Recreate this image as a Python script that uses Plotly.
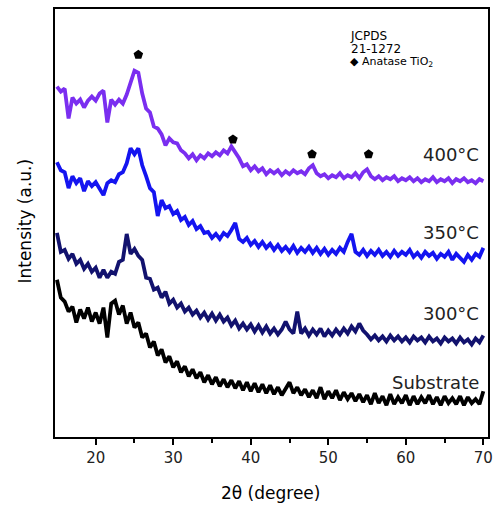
import plotly.graph_objects as go

# 2-theta scan positions (degrees), step 0.5
two_theta = [15 + 0.5 * i for i in range(111)]

# Intensities (a.u.)
i_400 = [352, 347, 350, 320, 341, 335, 339, 331, 338, 342,
         338, 345, 348, 316, 339, 334, 339, 335, 344, 356,
         368, 366, 345, 330, 326, 312, 310, 304, 293, 300,
         296, 295, 288, 285, 280, 284, 278, 283, 280, 285,
         282, 286, 283, 288, 285, 292, 286, 280, 272, 274,
         268, 272, 267, 270, 264, 268, 265, 268, 263, 267,
         264, 268, 265, 267, 264, 270, 273, 265, 262, 264,
         260, 263, 261, 265, 260, 263, 261, 265, 260, 266,
         269, 262, 259, 262, 258, 261, 259, 262, 257, 260,
         258, 261, 257, 260, 256, 259, 257, 261, 256, 259,
         257, 260, 255, 259, 257, 260, 256, 258, 255, 259,
         257]

i_350 = [276, 268, 266, 250, 262, 255, 260, 247, 257, 252,
         256, 250, 243, 255, 258, 256, 264, 266, 275, 290,
         284, 290, 273, 262, 250, 246, 222, 238, 230, 232,
         224, 227, 218, 221, 213, 217, 209, 212, 205, 206,
         200, 204, 199, 205, 202, 208, 215, 199, 196, 200,
         193, 197, 191, 196, 190, 194, 188, 193, 187, 191,
         186, 192, 185, 190, 186, 191, 185, 190, 184, 189,
         183, 188, 184, 190, 186, 196, 204, 186, 183, 188,
         182, 187, 183, 188, 182, 186, 181, 187, 182, 186,
         183, 188, 181, 185, 180, 186, 182, 185, 179, 184,
         181, 186, 178, 184, 180, 176, 183, 178, 184, 181,
         190]

i_300 = [205, 186, 188, 179, 184, 174, 178, 169, 174, 166,
         170, 160, 168, 160, 166, 164, 176, 178, 204, 184,
         189, 182, 178, 160, 159, 148, 150, 140, 146, 134,
         138, 130, 134, 126, 130, 123, 127, 120, 125, 118,
         124, 117, 123, 116, 120, 112, 117, 109, 114, 108,
         113, 106, 112, 105, 111, 104, 109, 103, 108, 116,
         108, 104, 126, 104, 109, 102, 108, 103, 109, 101,
         107, 102, 108, 103, 109, 104, 111, 106, 114, 107,
         103, 98, 102, 97, 101, 96, 102, 97, 101, 96,
         100, 95, 101, 97, 100, 95, 101, 96, 99, 94,
         100, 96, 99, 94, 100, 95, 98, 93, 99, 95,
         102]

i_sub = [158, 140, 136, 126, 131, 115, 128, 119, 130, 116,
         125, 114, 130, 100, 134, 137, 123, 132, 114, 125,
         110, 115, 100, 104, 90, 96, 82, 88, 75, 81,
         70, 76, 65, 71, 61, 68, 59, 65, 55, 62,
         53, 60, 51, 58, 50, 57, 49, 56, 47, 55,
         46, 54, 45, 53, 44, 52, 43, 50, 42, 49,
         55, 44, 50, 42, 48, 40, 47, 39, 50, 38,
         46, 39, 47, 37, 45, 38, 44, 36, 43, 35,
         42, 33, 44, 34, 41, 32, 43, 33, 40, 34,
         42, 32, 41, 33, 40, 34, 42, 33, 40, 32,
         41, 34, 39, 33, 41, 32, 40, 34, 38, 33,
         46]

series_names = ["400°C", "350°C", "300°C", "Substrate"]
series_colors = ["#7a2ef0", "#1414f0", "#12126e", "#000000"]
label_y = [284, 205, 124, 55]

# Anatase TiO2 reflections marked on the 400°C pattern
peak_x = [25.5, 37.7, 47.9, 55.2]
peak_y = [384, 299, 284, 284]

x_ticks = [20, 30, 40, 50, 60, 70]

fig = go.Figure()
for name, vals, col in zip(series_names, [i_400, i_350, i_300, i_sub], series_colors):
    fig.add_trace(go.Scatter(x=two_theta, y=vals, mode="lines", name=name,
                             line=dict(color=col, width=3.8, shape="linear"),
                             showlegend=False))

fig.add_trace(go.Scatter(x=peak_x, y=peak_y, mode="markers", showlegend=False,
                         marker=dict(symbol="pentagon", size=10, color="black")))

font = "DejaVu Sans"
for name, yv in zip(series_names, label_y):
    fig.add_annotation(x=69.7, y=yv, text=name, showarrow=False, xanchor="right",
                       yanchor="middle", font=dict(family=font, size=18, color="#222"))

fig.add_annotation(x=52.5, y=403, text="JCPDS", showarrow=False, xanchor="left",
                   font=dict(family=font, size=12, color="black"))
fig.add_annotation(x=52.7, y=390, text="21-1272", showarrow=False, xanchor="left",
                   font=dict(family=font, size=12, color="black"))
fig.add_annotation(x=52.5, y=377, text="◆ Anatase TiO<sub>2</sub>", showarrow=False,
                   xanchor="left", font=dict(family=font, size=11, color="black"))

fig.add_annotation(xref="paper", yref="paper", x=0.498, y=-0.13, text="2θ (degree)",
                   showarrow=False, xanchor="center", yanchor="middle",
                   font=dict(family=font, size=17, color="black"))
fig.add_annotation(xref="paper", yref="paper", x=-0.07, y=0.505, text="Intensity (a.u.)",
                   showarrow=False, textangle=-90, xanchor="center", yanchor="middle",
                   font=dict(family=font, size=17, color="black"))

fig.update_layout(
    width=500, height=505,
    margin=dict(l=55, r=7, t=7, b=68),
    paper_bgcolor="white", plot_bgcolor="white",
    xaxis=dict(range=[14.75, 70.6], tickvals=x_ticks, ticks="outside", ticklen=6,
               tickwidth=2, tickcolor="black", showline=True, linecolor="black",
               linewidth=2, mirror=True, showgrid=False, zeroline=False,
               tickfont=dict(family=font, size=15, color="#222"),
               minor=dict(tickvals=[25, 35, 45, 55, 65], ticks="outside", ticklen=4,
                          tickwidth=2, tickcolor="black")),
    yaxis=dict(range=[0, 430], showticklabels=False, ticks="", showline=True,
               linecolor="black", linewidth=2, mirror=True, showgrid=False,
               zeroline=False),
)

fig.write_html("out.html")
